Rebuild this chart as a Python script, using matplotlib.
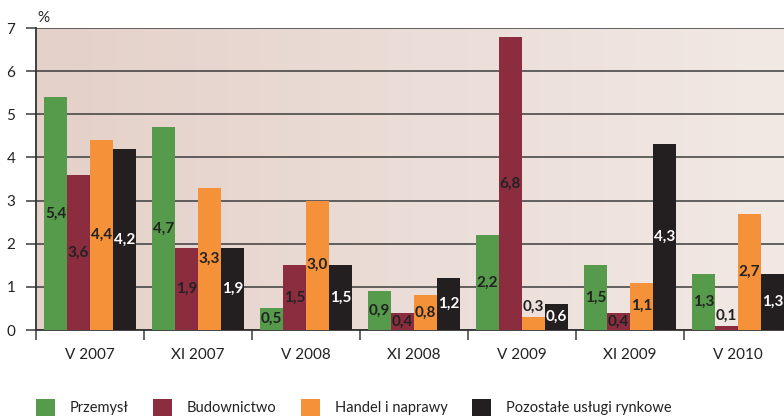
import numpy as np
import matplotlib.pyplot as plt
from matplotlib.patches import Rectangle

periods = ["V 2007", "XI 2007", "V 2008", "XI 2008", "V 2009", "XI 2009", "V 2010"]
series = ["Przemysł", "Budownictwo", "Handel i naprawy", "Pozostałe usługi rynkowe"]
przemysl = [5.4, 4.7, 0.5, 0.9, 2.2, 1.5, 1.3]
budownictwo = [3.6, 1.9, 1.5, 0.4, 6.8, 0.4, 0.1]
handel = [4.4, 3.3, 3.0, 0.8, 0.3, 1.1, 2.7]
pozostale = [4.2, 1.9, 1.5, 1.2, 0.6, 4.3, 1.3]

colors = ["#559b4b", "#8b2c3f", "#f59138", "#231f20"]
txtcol = ["#222222", "#222222", "#222222", "#ffffff"]
font = ["Lato", "DejaVu Sans"]

fig = plt.figure(figsize=(7.84, 4.16), dpi=100)
W, H = 784, 416
ax = fig.add_axes([36 / W, (H - 330) / H, 756 / W, 302 / H])

# horizontal gradient background
grad = np.linspace(0, 1, 256).reshape(1, -1)
c0 = np.array([0xe4, 0xd1, 0xc9]) / 255
c1 = np.array([0xf2, 0xe9, 0xe5]) / 255
img = c0[None, None, :] * (1 - grad[..., None]) + c1[None, None, :] * grad[..., None]
ax.imshow(img, extent=[-0.5, 6.5, 0, 7], aspect="auto", zorder=0)

x = np.arange(len(periods))
w = 0.213
data = [przemysl, budownictwo, handel, pozostale]
for k, vals in enumerate(data):
    xs = x + (k - 1.5) * w
    ax.bar(xs, vals, w, color=colors[k], zorder=3, linewidth=0)
    for xi, v in zip(xs, vals):
        y = v / 2 if v >= 0.35 else v + 0.24
        col = txtcol[k] if v >= 0.35 else "#222222"
        ax.text(xi, y, f"{v:.1f}".replace(".", ","), ha="center", va="center",
                fontsize=11, fontweight="bold", color=col, family=font, zorder=4)

ax.set_xlim(-0.5, 6.5)
ax.set_ylim(0, 7)
ax.set_yticks(range(0, 8))
ax.set_yticklabels([str(i) for i in range(0, 8)], family=font, fontsize=11, color="#222222")
ax.yaxis.grid(True, color="#3c3c3c", linewidth=1.1, zorder=1)
ax.set_axisbelow(True)
ax.tick_params(axis="y", length=7, width=1.1, color="#3c3c3c", pad=8)

ax.set_xticks(np.arange(-0.5, 7, 1.0))
ax.set_xticklabels([])
ax.set_xticks(x, minor=True)
ax.set_xticklabels(periods, minor=True, family=font, fontsize=11, color="#222222")
ax.tick_params(axis="x", which="major", length=7, width=1.1, color="#3c3c3c", direction="out")
ax.tick_params(axis="x", which="minor", length=0, pad=13)

for s in ["top", "right"]:
    ax.spines[s].set_visible(False)
for s in ["left", "bottom"]:
    ax.spines[s].set_color("#333333")
    ax.spines[s].set_linewidth(1.3)

fig.text(37 / W, 1 - 18 / H, "%", family=font, fontsize=11, color="#222222", va="center")

# legend
lx = [36, 153, 301, 472]
for k in range(4):
    fig.patches.append(Rectangle((lx[k] / W, 0), 19 / W, 17 / H, transform=fig.transFigure,
                                 facecolor=colors[k], edgecolor="none"))
    fig.text((lx[k] + 34) / W, 1 - 408 / H, series[k], family=font, fontsize=10.5,
             color="#222222", va="center")

fig.savefig("out.png", dpi=100)
